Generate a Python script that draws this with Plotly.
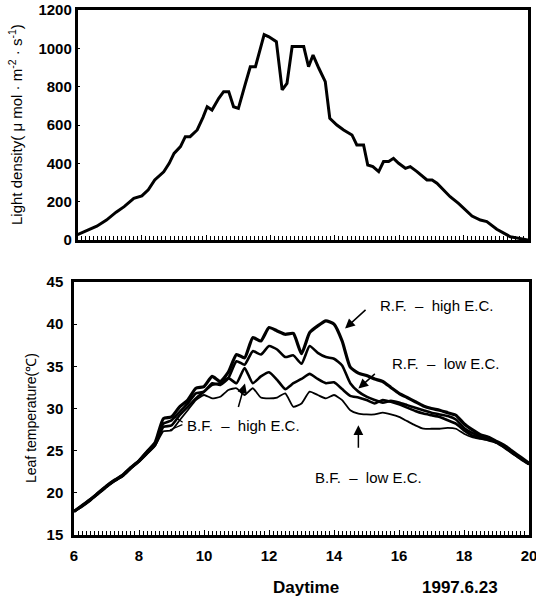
import plotly.graph_objects as go

W, H = 536, 597

# ---- Top panel: light density ----
light_x = [6.0, 6.3, 6.6, 6.9, 7.2, 7.45, 7.75, 8.0, 8.2, 8.4, 8.68, 8.85, 9.0, 9.2, 9.35, 9.5,
           9.72, 9.9, 10.03, 10.18, 10.39, 10.54, 10.7, 10.85, 11.0, 11.22, 11.37, 11.53, 11.8,
           11.95, 12.18, 12.36, 12.51, 12.67, 13.03, 13.18, 13.32, 13.5, 13.7, 13.84, 14.06,
           14.27, 14.53, 14.68, 14.89, 15.02, 15.18, 15.36, 15.51, 15.67, 15.82, 15.98, 16.19,
           16.34, 16.55, 16.86, 17.02, 17.17, 17.58, 17.84, 18.26, 18.52, 18.72, 19.03, 19.45, 20.0]
light_y = [28, 50, 72, 104, 145, 174, 217, 230, 262, 313, 356, 400, 452, 487, 539, 539,
           574, 640, 695, 678, 739, 774, 774, 695, 687, 817, 904, 904, 1072,
           1060, 1035, 783, 817, 1009, 1009, 904, 965, 896, 826, 635, 600,
           574, 548, 496, 496, 391, 383, 357, 409, 409, 426, 400, 374,
           383, 357, 313, 313, 296, 226, 191, 125, 104, 96, 56, 17, 0]

# ---- Bottom panel: leaf temperature ----
temp_x = [6.0 + 0.25 * i for i in range(57)]
rf_high = [17.8, 18.5, 19.2, 20.0, 20.8, 21.5, 22.1, 23.0, 23.8, 24.9, 26.0,
           28.8, 29.0, 30.2, 31.0, 32.4, 32.6, 33.8, 33.2, 34.3, 36.4, 36.0, 38.4, 38.0,
           39.6, 39.2, 38.8, 38.9, 36.5, 39.0, 39.8, 40.4, 40.0, 38.0, 34.9, 34.2,
           33.9, 33.5, 33.2, 32.5, 31.8, 31.3, 30.8, 30.3, 30.0, 29.8, 29.5, 29.2,
           28.2, 27.5, 26.9, 26.6, 26.1, 25.6, 24.9, 24.2, 23.5]
rf_low = [17.8, 18.5, 19.2, 20.0, 20.8, 21.5, 22.1, 23.0, 23.8, 24.9, 25.9,
          28.2, 28.6, 29.6, 30.6, 31.8, 32.0, 33.0, 32.8, 33.6, 35.6, 35.2, 36.8, 36.4,
          37.4, 37.0, 36.1, 36.3, 35.3, 37.4, 36.6, 36.1, 35.9, 35.1, 33.0, 32.0,
          31.4, 31.0, 30.7, 30.9, 30.7, 30.4, 30.1, 29.8, 29.5, 29.3, 29.1, 28.7,
          27.7, 27.1, 26.7, 26.4, 26.0, 25.5, 24.8, 24.1, 23.4]
bf_high = [17.8, 18.4, 19.1, 19.9, 20.7, 21.4, 22.0, 22.9, 23.7, 24.7, 25.7,
           27.8, 28.0, 29.2, 30.2, 31.2, 32.0, 32.8, 33.0, 33.6, 33.0, 34.8, 33.0, 33.8,
           34.3, 33.4, 32.3, 33.0, 33.5, 34.1, 33.5, 33.0, 33.1, 32.3, 31.5, 31.3,
           31.0, 30.6, 31.0, 30.8, 30.5, 30.1, 29.7, 29.4, 29.2, 29.0, 28.6, 28.2,
           27.4, 26.8, 26.5, 26.3, 26.0, 25.4, 24.7, 24.0, 23.4]
bf_low = [17.8, 18.4, 19.1, 19.9, 20.7, 21.4, 22.0, 22.9, 23.7, 24.6, 25.6,
          27.3, 27.4, 28.6, 29.8, 31.0, 31.6, 31.2, 31.4, 32.2, 32.4, 31.6, 32.4, 31.3,
          31.2, 31.3, 31.8, 30.2, 30.6, 32.0, 31.6, 31.2, 31.6, 31.0, 29.8, 29.4,
          29.3, 29.3, 29.5, 29.3, 29.0, 28.5, 28.0, 27.6, 27.6, 27.6, 27.7, 27.6,
          27.0, 26.6, 26.4, 26.2, 25.9, 25.3, 24.6, 24.0, 23.4]

series_names = ["R.F. - high E.C.", "R.F. - low E.C.", "B.F. - high E.C.", "B.F. - low E.C."]
x_ticks = [6, 8, 10, 12, 14, 16, 18, 20]
light_ticks = [0, 200, 400, 600, 800, 1000, 1200]
temp_ticks = [15, 20, 25, 30, 35, 40, 45]

FONT = "Liberation Sans, Arial, sans-serif"

def px(x):
    return x / W

def py(y):
    return 1 - y / H

fig = go.Figure()
fig.add_trace(go.Scatter(x=light_x, y=light_y, mode="lines", xaxis="x", yaxis="y",
                         line=dict(color="black", width=3), showlegend=False))
widths = [3.2, 2.6, 2.6, 1.8]
for name, vals, w in zip(series_names, [rf_high, rf_low, bf_high, bf_low], widths):
    fig.add_trace(go.Scatter(x=temp_x, y=vals, mode="lines", xaxis="x2", yaxis="y2", name=name,
                             line=dict(color="black", width=w, shape="spline", smoothing=0.5),
                             showlegend=False))

axis_common = dict(showline=True, linecolor="black", linewidth=2.5, mirror=True,
                   showgrid=False, zeroline=False, ticks="inside", tickcolor="black",
                   automargin=False, ticklabeloverflow="allow",
                   tickfont=dict(family=FONT, size=15, color="black", weight="bold"))

fig.update_layout(
    width=W, height=H,
    margin=dict(l=0, r=0, t=0, b=0, autoexpand=False),
    paper_bgcolor="white", plot_bgcolor="white",
    xaxis=dict(axis_common, domain=[px(77.5), px(528)], range=[6, 20], tickvals=x_ticks,
               showticklabels=False, ticklen=5, anchor="y",
               minor=dict(dtick=0.125, tick0=6, ticks="inside", ticklen=4, tickcolor="black")),
    yaxis=dict(axis_common, domain=[py(240), py(10)], range=[0, 1200], tickvals=light_ticks,
               ticklen=3, anchor="x", ticklabelstandoff=0),
    xaxis2=dict(axis_common, domain=[px(74), px(529)], range=[6, 20], tickvals=x_ticks,
                ticklen=5, anchor="y2", ticklabelstandoff=5,
                minor=dict(dtick=0.125, tick0=6, ticks="inside", ticklen=4, tickcolor="black")),
    yaxis2=dict(axis_common, domain=[py(535), py(282)], range=[15, 45], tickvals=temp_ticks,
                ticklen=3, anchor="x2", ticklabelstandoff=5),
)

ann_font = dict(family=FONT, size=15, color="black")
arrow = dict(text="", xref="x2", yref="y2", showarrow=True, arrowhead=2, arrowsize=1.3,
             arrowwidth=1.5, arrowcolor="black")
title_common = dict(xref="paper", yref="paper", showarrow=False, xanchor="center", yanchor="middle")
annotations = [
    # axis titles
    dict(title_common, text="Light density( μ mol · m<sup>-2</sup> · s<sup>-1</sup>)",
         x=px(16), y=py(125), textangle=-90, font=dict(family=FONT, size=15, color="black")),
    dict(title_common, text="Leaf temperature(℃)",
         x=px(31), y=py(418), textangle=-90, font=dict(family=FONT, size=14, color="black")),
    dict(title_common, text="<b>Daytime</b>", x=px(306), y=py(587),
         font=dict(family=FONT, size=17, color="black")),
    dict(title_common, text="<b>1997.6.23</b>", x=px(460), y=py(587),
         font=dict(family=FONT, size=17, color="black")),
    # series labels
    dict(text="R.F.  –  high E.C.", xref="x2", yref="y2", x=15.35, y=42.24, xanchor="left",
         showarrow=False, font=ann_font),
    dict(text="R.F.  –  low E.C.", xref="x2", yref="y2", x=15.72, y=35.37, xanchor="left",
         showarrow=False, font=ann_font),
    dict(text="B.F.  –  high E.C.", xref="x2", yref="y2", x=9.42, y=28.02, xanchor="left",
         showarrow=False, font=ann_font),
    dict(text="B.F.  –  low E.C.", xref="x2", yref="y2", x=13.35, y=21.86, xanchor="left",
         showarrow=False, font=ann_font),
    # arrows
    dict(arrow, x=14.34, y=39.48, ax=22, ay=-20),
    dict(arrow, x=14.75, y=32.37, ax=18, ay=-16),
    dict(arrow, x=11.26, y=32.96, ax=-7, ay=25),
    dict(arrow, x=14.75, y=28.0, ax=0, ay=24),
    # small bracket pointer for B.F. - high E.C.
    dict(arrow, x=9.02, y=29.2, ax=12, ay=8, arrowhead=0, arrowwidth=1.2),
    dict(arrow, x=8.95, y=27.45, ax=14, ay=-6, arrowhead=0, arrowwidth=1.2),
]
fig.update_layout(annotations=annotations)

# remove the browser's default 8px page margin so the figure sits at the window corner
fig.write_html("out.html", config={"displayModeBar": False},
               post_script="document.body.style.margin='0';")
